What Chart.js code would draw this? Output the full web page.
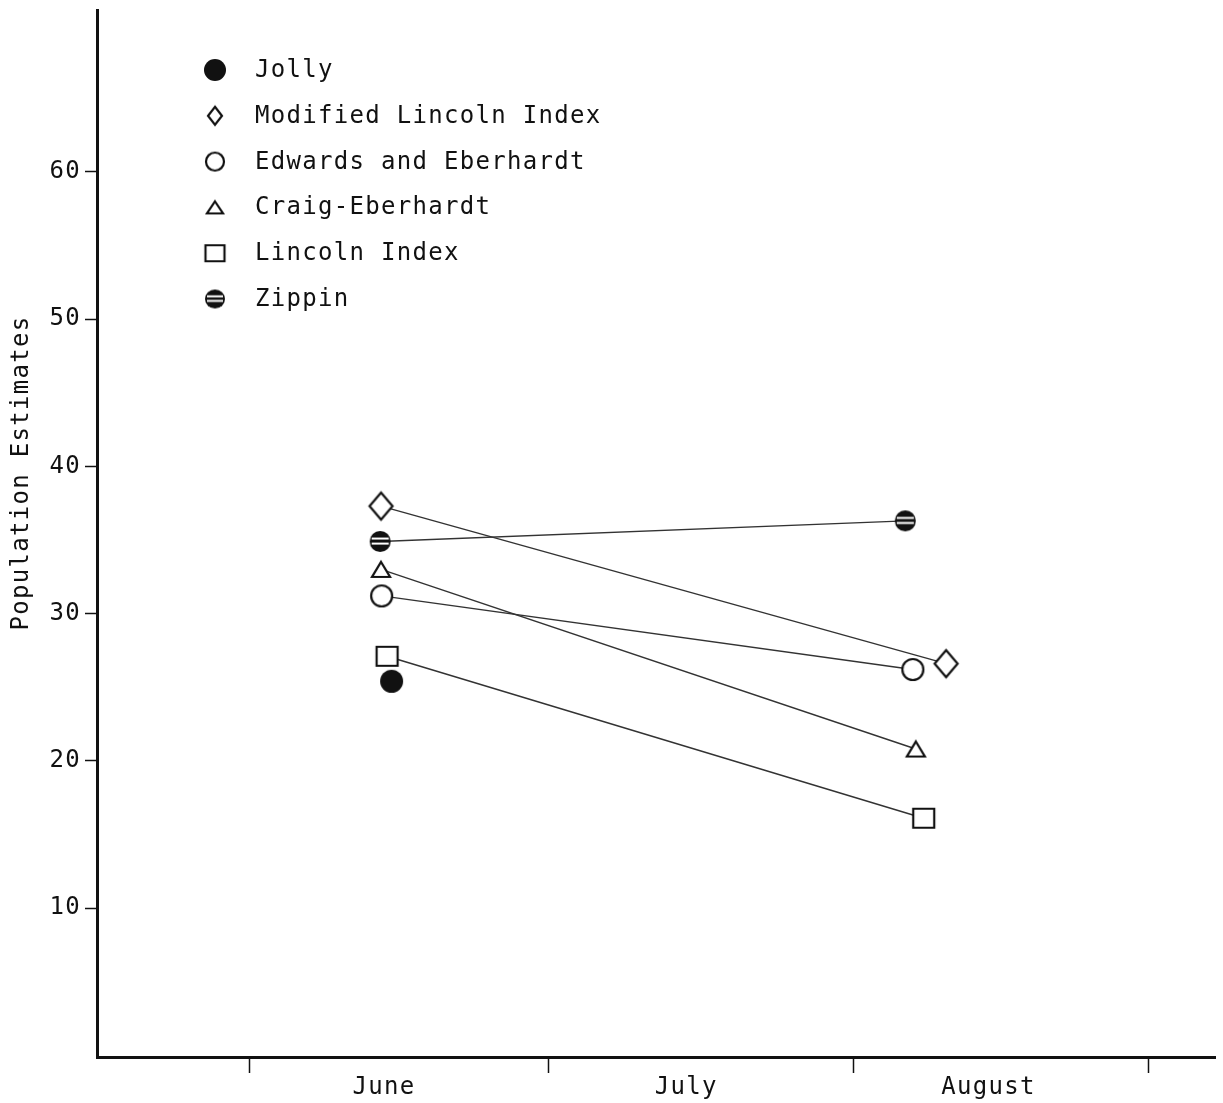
<!DOCTYPE html>
<html>
<head>
<meta charset="utf-8">
<script src="https://cdn.jsdelivr.net/npm/chart.js@4.4.1/dist/chart.umd.min.js"></script>
<style>
  html, body { margin: 0; padding: 0; background: #fff; }
  #wrap { width: 1223px; height: 1103px; }
</style>
</head>
<body>
<div id="wrap"><canvas id="grafico"></canvas></div>
<script>
// categorias do eixo x (posição em "meses") e marcas entre elas
const meses = ["June", "July", "August"];
const mesPos = [1, 2, 3];
const marcasX = [0.556, 1.543, 2.553, 3.53];
const marcasY = [10, 20, 30, 40, 50, 60];

const nomes = ["Jolly", "Modified Lincoln Index", "Edwards and Eberhardt", "Craig-Eberhardt", "Lincoln Index", "Zippin"];

// valores
const jollyX = [1.025];
const jollyY = [25.4];
const modLincolnX = [0.99, 2.86];
const modLincolnY = [37.3, 26.6];
const edwardsX = [0.992, 2.75];
const edwardsY = [31.2, 26.2];
const craigX = [0.99, 2.76];
const craigY = [33.0, 20.8];
const lincolnX = [1.01, 2.786];
const lincolnY = [27.1, 16.1];
const zippinX = [0.987, 2.725];
const zippinY = [34.9, 36.3];

const fonte = "'DejaVu Sans Mono', monospace";
const tinta = "#111";

function criarMarcador(tipo, w, h) {
  const pad = 3;
  const c = document.createElement("canvas");
  c.width = Math.ceil(w + pad * 2);
  c.height = Math.ceil(h + pad * 2);
  const g = c.getContext("2d");
  const cx = c.width / 2;
  const cy = c.height / 2;
  g.lineWidth = 2.2;
  g.strokeStyle = tinta;
  g.fillStyle = "#fff";
  g.beginPath();
  if (tipo === "cheio" || tipo === "listrado") {
    g.ellipse(cx, cy, w / 2, h / 2, 0, 0, Math.PI * 2);
    g.fillStyle = tinta;
    g.fill();
    if (tipo === "listrado") {
      g.fillStyle = "#fff";
      g.fillRect(cx - w / 2 + 2, cy - h * 0.14 - 1, w - 4, 2);
      g.fillRect(cx - w / 2 + 2, cy + h * 0.1 - 1, w - 4, 2);
    }
    return c;
  }
  if (tipo === "circulo") {
    g.ellipse(cx, cy, w / 2, h / 2, 0, 0, Math.PI * 2);
  } else if (tipo === "losango") {
    g.moveTo(cx, cy - h / 2);
    g.lineTo(cx + w / 2, cy);
    g.lineTo(cx, cy + h / 2);
    g.lineTo(cx - w / 2, cy);
    g.closePath();
  } else if (tipo === "triangulo") {
    g.moveTo(cx, cy - h / 2);
    g.lineTo(cx + w / 2, cy + h / 2);
    g.lineTo(cx - w / 2, cy + h / 2);
    g.closePath();
  } else if (tipo === "quadrado") {
    g.rect(cx - w / 2, cy - h / 2, w, h);
  }
  g.fill();
  g.stroke();
  return c;
}

const marcadores = [
  criarMarcador("cheio", 23, 23),
  criarMarcador("losango", 23, 27),
  criarMarcador("circulo", 21, 21),
  criarMarcador("triangulo", 18, 15),
  criarMarcador("quadrado", 21, 19),
  criarMarcador("listrado", 21, 21),
];

const marcadoresLegenda = [
  criarMarcador("cheio", 22, 22),
  criarMarcador("losango", 14, 18),
  criarMarcador("circulo", 18, 18),
  criarMarcador("triangulo", 16, 12),
  criarMarcador("quadrado", 19, 16),
  criarMarcador("listrado", 20, 19),
];

function pontos(xs, ys) {
  return xs.map((x, i) => ({ x: x, y: ys[i] }));
}

const seriesX = [jollyX, modLincolnX, edwardsX, craigX, lincolnX, zippinX];
const seriesY = [jollyY, modLincolnY, edwardsY, craigY, lincolnY, zippinY];

const datasets = nomes.map((nome, i) => ({
  label: nome,
  data: pontos(seriesX[i], seriesY[i]),
  borderColor: "#333",
  borderWidth: 1.4,
  pointStyle: marcadores[i],
  pointRadius: 5,
  showLine: true,
  tension: 0,
}));

const legendaPlugin = {
  id: "legendaPlugin",
  beforeDraw(chart) {
    chart.ctx.letterSpacing = "1.3px";
  },
  afterDraw(chart) {
    const ctx = chart.ctx;
    const area = chart.chartArea;
    ctx.save();
    ctx.letterSpacing = "1.3px";
    ctx.font = "24px " + fonte;
    ctx.fillStyle = tinta;
    ctx.textBaseline = "alphabetic";
    ctx.textAlign = "left";
    chart.data.datasets.forEach((ds, i) => {
      const base = area.top + 67 + i * 45.8;
      const m = marcadoresLegenda[i];
      ctx.drawImage(m, area.left + 118 - m.width / 2, base - 7 - m.height / 2);
      ctx.fillText(ds.label, area.left + 158, base);
    });
    // título do eixo y
    ctx.translate(22, 473);
    ctx.rotate(-Math.PI / 2);
    ctx.textAlign = "center";
    ctx.textBaseline = "middle";
    ctx.fillText("Population Estimates", 0, 0);
    ctx.restore();
  },
};

new Chart(document.getElementById("grafico"), {
  type: "scatter",
  data: { datasets: datasets },
  plugins: [legendaPlugin],
  options: {
    responsive: true,
    maintainAspectRatio: false,
    animation: false,
    events: [],
    layout: { padding: { top: 10, right: 8, left: 0, bottom: 0 } },
    plugins: {
      legend: { display: false },
      tooltip: { enabled: false },
    },
    scales: {
      x: {
        type: "linear",
        min: 0.05,
        max: 3.75,
        afterFit(scale) {
          scale.height = 46;
          scale.paddingLeft = 0;
          scale.paddingRight = 0;
        },
        afterBuildTicks(scale) {
          scale.ticks = [...marcasX, ...mesPos].sort((a, b) => a - b).map((v) => ({ value: v }));
        },
        border: { display: true, color: tinta, width: 3 },
        grid: {
          drawOnChartArea: false,
          drawTicks: true,
          tickLength: 16,
          tickWidth: 1.5,
          tickColor: (c) => (c.tick && Number.isInteger(c.tick.value) ? "rgba(0,0,0,0)" : tinta),
        },
        ticks: {
          autoSkip: false,
          maxRotation: 0,
          padding: 0,
          color: tinta,
          font: { family: fonte, size: 24 },
          callback: (v) => {
            const i = mesPos.indexOf(v);
            return i >= 0 ? meses[i] : "";
          },
        },
      },
      y: {
        min: -0.12,
        max: 71,
        afterFit(scale) {
          scale.width = 97;
          scale.paddingTop = 0;
          scale.paddingBottom = 0;
        },
        afterBuildTicks(scale) {
          scale.ticks = marcasY.map((v) => ({ value: v }));
        },
        border: { display: true, color: tinta, width: 3 },
        grid: {
          drawOnChartArea: false,
          drawTicks: true,
          tickLength: 12,
          tickWidth: 1.5,
          tickColor: tinta,
        },
        ticks: {
          padding: 4,
          color: tinta,
          font: { family: fonte, size: 24 },
        },
      },
    },
  },
});
</script>
</body>
</html>
